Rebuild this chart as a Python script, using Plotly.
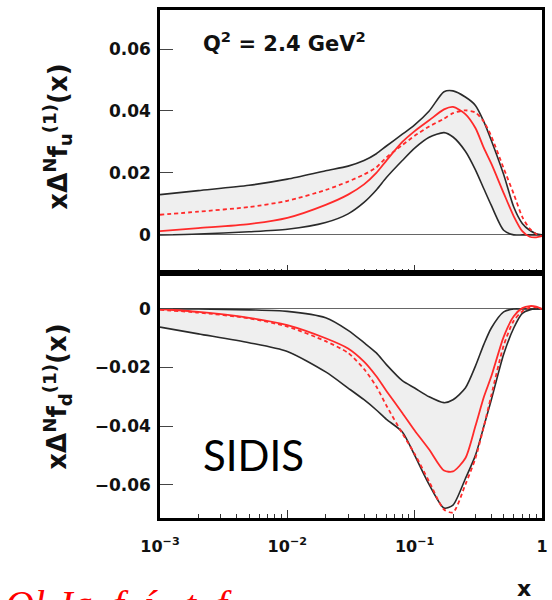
import plotly.graph_objects as go

# ---- data ----
x_grid = [0.001, 0.002, 0.005, 0.01, 0.02, 0.03, 0.04, 0.05, 0.06, 0.08, 0.1, 0.13, 0.17, 0.2,
          0.25, 0.3, 0.35, 0.4, 0.5, 0.6, 0.7, 0.8, 0.9, 1.0]

# up quark panel
u_upper = [0.0130, 0.0143, 0.0160, 0.0180, 0.0207, 0.0222, 0.0240, 0.0262, 0.0287, 0.0325, 0.0355, 0.0400, 0.0462, 0.0465,
           0.0445, 0.0418, 0.0365, 0.0305, 0.0195, 0.0090, 0.0037, 0.0015, 0.0004, 0.0]
u_lower = [0.0, 0.0003, 0.0010, 0.0018, 0.0040, 0.0068, 0.0105, 0.0145, 0.0185, 0.0240, 0.0280, 0.0315, 0.0330, 0.0316,
           0.0270, 0.0210, 0.0148, 0.0095, 0.0015, 0.0, 0.0, 0.0, 0.0, 0.0]
u_central = [0.0012, 0.0022, 0.0035, 0.0055, 0.0097, 0.0130, 0.0163, 0.0200, 0.0240, 0.0300, 0.0335, 0.0370, 0.0405, 0.0413,
             0.0390, 0.0345, 0.0280, 0.0230, 0.0135, 0.0060, 0.0012, -0.0006, -0.0008, -0.0004]
u_dashed = [0.0065, 0.0075, 0.0090, 0.0110, 0.0145, 0.0172, 0.0195, 0.0218, 0.0250, 0.0290, 0.0320, 0.0350, 0.0375, 0.0393,
            0.0402, 0.0395, 0.0365, 0.0318, 0.0215, 0.0132, 0.0058, 0.0020, 0.0003, -0.0004]

# down quark panel
d_upper = [0.0, 0.0, -0.0003, -0.0008, -0.0030, -0.0073, -0.0115, -0.0150, -0.0190, -0.0245, -0.0270, -0.0300, -0.0320, -0.0310,
           -0.0270, -0.0195, -0.0120, -0.0065, -0.0010, 0.0, 0.0, 0.0, 0.0, 0.0]
d_lower = [-0.0062, -0.0085, -0.0115, -0.0145, -0.0215, -0.0270, -0.0310, -0.0345, -0.0377, -0.0420, -0.0500, -0.0600, -0.0680, -0.0670,
           -0.0580, -0.0500, -0.0400, -0.0310, -0.0155, -0.0065, -0.0015, -0.0003, 0.0, 0.0]
d_central = [0.0, -0.0010, -0.0030, -0.0055, -0.0100, -0.0135, -0.0180, -0.0230, -0.0280, -0.0355, -0.0415, -0.0480, -0.0552, -0.0555,
             -0.0510, -0.0400, -0.0300, -0.0230, -0.0095, -0.0025, 0.0003, 0.0010, 0.0008, 0.0]
d_dashed = [-0.0003, -0.0012, -0.0032, -0.0060, -0.0110, -0.0150, -0.0205, -0.0265, -0.0330, -0.0425, -0.0495, -0.0590, -0.0685, -0.0695,
            -0.0600, -0.0510, -0.0400, -0.0295, -0.0125, -0.0040, -0.0008, 0.0005, 0.0006, 0.0]

x_tickvals = [0.001, 0.01, 0.1, 1]
x_ticktext = ["<b>10<sup>−3</sup></b>", "<b>10<sup>−2</sup></b>", "<b>10<sup>−1</sup></b>", "<b>1</b>"]
x_minor = [m * d for d in (0.001, 0.01, 0.1) for m in range(2, 10)]
u_tickvals = [0, 0.02, 0.04, 0.06]
u_ticktext = ["<b>0</b>", "<b>0.02</b>", "<b>0.04</b>", "<b>0.06</b>"]
d_tickvals = [0, -0.02, -0.04, -0.06]
d_ticktext = ["<b>0</b>", "<b>−0.02</b>", "<b>−0.04</b>", "<b>−0.06</b>"]

# ---- figure ----
fig = go.Figure()
band_line = dict(color="#2a2a2a", width=1.6, shape="spline", smoothing=0.7)
red_solid = dict(color="#ff2a2a", width=1.8, shape="spline", smoothing=0.7)
red_dash = dict(color="#ff2a2a", width=1.8, dash="4px,3px", shape="spline", smoothing=0.7)

for (hi, lo, c, dsh, xa, ya) in [(u_upper, u_lower, u_central, u_dashed, "x", "y"),
                                  (d_upper, d_lower, d_central, d_dashed, "x2", "y2")]:
    fig.add_trace(go.Scatter(x=x_grid, y=hi, mode="lines", line=band_line,
                             xaxis=xa, yaxis=ya, showlegend=False))
    fig.add_trace(go.Scatter(x=x_grid, y=lo, mode="lines", line=band_line, fill="tonexty",
                             fillcolor="#efefef", xaxis=xa, yaxis=ya, showlegend=False))
    fig.add_trace(go.Scatter(x=x_grid, y=dsh, mode="lines", line=red_dash,
                             xaxis=xa, yaxis=ya, showlegend=False))
    fig.add_trace(go.Scatter(x=x_grid, y=c, mode="lines", line=red_solid,
                             xaxis=xa, yaxis=ya, showlegend=False))

common_x = dict(type="log", range=[-3, 0], showgrid=False, zeroline=False,
                showline=True, linecolor="black", linewidth=2.5, mirror=True,
                ticks="inside", ticklen=8, tickwidth=1.2, tickcolor="#333",
                minor=dict(tickvals=x_minor, ticks="inside", ticklen=4, tickwidth=1, tickcolor="#333"),
                tickvals=x_tickvals)
common_y = dict(showgrid=False, showline=True, linecolor="black", linewidth=2.5, mirror=True,
                ticks="inside", ticklen=13, tickwidth=1.4, tickcolor="#444",
                zeroline=True, zerolinecolor="#666", zerolinewidth=1.2,
                tickfont=dict(family="DejaVu Sans", size=17, color="#111"), ticklabelstandoff=3)

fig.update_layout(
    width=552, height=600,
    margin=dict(l=160, r=4, t=10, b=82),
    plot_bgcolor="white", paper_bgcolor="white",
    xaxis=dict(common_x, domain=[0, 1], anchor="y", showticklabels=False),
    yaxis=dict(common_y, domain=[0.4823, 1], anchor="x", range=[-0.0123, 0.0726],
               tickvals=u_tickvals, ticktext=u_ticktext),
    xaxis2=dict(common_x, domain=[0, 1], anchor="y2", ticktext=x_ticktext,
                tickfont=dict(family="DejaVu Sans", size=16, color="#111"), ticklabelstandoff=12),
    yaxis2=dict(common_y, domain=[0, 0.4823], anchor="x2", range=[-0.0714, 0.0123],
                tickvals=d_tickvals, ticktext=d_ticktext),
    font=dict(family="DejaVu Sans", color="#111"),
)

bold = dict(family="DejaVu Sans", color="#111")
fig.add_annotation(xref="paper", yref="paper", x=-0.2706, y=0.75, textangle=-90,
                   text="<b>xΔ<sup>N</sup>f<sub>u</sub><sup>(1)</sup>(x)</b>", showarrow=False,
                   font=dict(bold, size=26), xanchor="center", yanchor="middle")
fig.add_annotation(xref="paper", yref="paper", x=-0.2706, y=0.238, textangle=-90,
                   text="<b>xΔ<sup>N</sup>f<sub>d</sub><sup>(1)</sup>(x)</b>", showarrow=False,
                   font=dict(bold, size=26), xanchor="center", yanchor="middle")
fig.add_annotation(xref="paper", yref="paper", x=0.327, y=0.937,
                   text="<b>Q<sup>2</sup> = 2.4 GeV<sup>2</sup></b>", showarrow=False,
                   font=dict(bold, size=21), xanchor="center", yanchor="middle")
fig.add_annotation(xref="paper", yref="paper", x=0.245, y=0.124,
                   text="SIDIS", showarrow=False,
                   font=dict(family="Lato", size=42, color="black"), xanchor="center", yanchor="middle")
fig.add_annotation(xref="paper", yref="paper", x=0.954, y=-0.138,
                   text="<b>x</b>", showarrow=False,
                   font=dict(bold, size=22), xanchor="center", yanchor="middle")
fig.add_annotation(xref="paper", yref="paper", x=-0.41, y=-0.122,
                   text="<i>Ol Ja  f  í   t  f</i>", showarrow=False,
                   font=dict(family="Liberation Serif", size=40, color="#ff0000"),
                   xanchor="left", yanchor="top")

fig.write_html("out.html", config={"displayModeBar": False},
               post_script="document.body.style.margin='0';document.body.style.overflow='hidden';")
